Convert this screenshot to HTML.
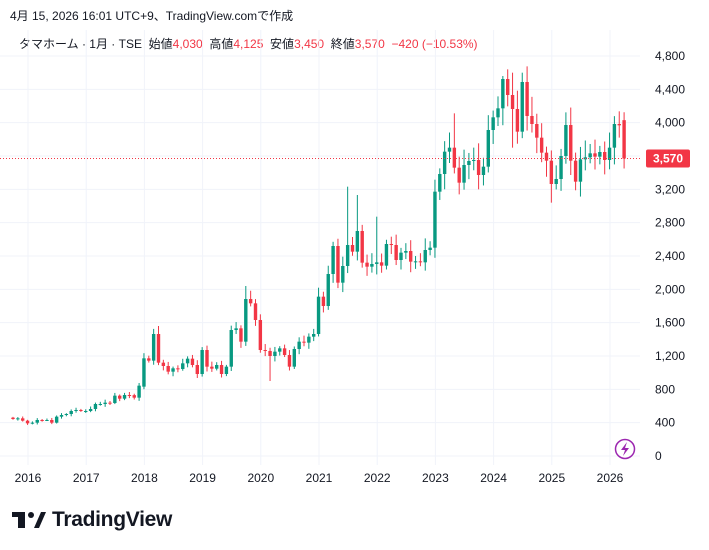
<!DOCTYPE html>
<html><head><meta charset="utf-8">
<style>
html,body{margin:0;padding:0;background:#fff;width:709px;height:550px;overflow:hidden}
body{font-family:"Liberation Sans","Noto Sans CJK JP",sans-serif;color:#131722;position:relative}
.t{position:absolute;white-space:nowrap}
</style></head><body>
<div class="t" style="left:10px;top:7px;font-size:12px">4月 15, 2026 16:01 UTC+9、TradingView.comで作成</div>
<div class="t" style="left:19px;top:35px;font-size:12px">タマホーム · 1月 · TSE&nbsp; 始値<span style="color:#f23645">4,030</span>&nbsp; 高値<span style="color:#f23645">4,125</span>&nbsp; 安値<span style="color:#f23645">3,450</span>&nbsp; 終値<span style="color:#f23645">3,570</span>&nbsp; <span style="color:#f23645">−420 (−10.53%)</span></div>
<svg id="c" width="709" height="550" style="position:absolute;left:0;top:0" xmlns="http://www.w3.org/2000/svg"></svg>
<div class="t" style="left:12px;top:508px;font-size:21px;font-weight:bold;letter-spacing:-0.3px"><span style="display:inline-block;vertical-align:-2px;margin-right:6px"><svg width="34" height="16"><rect x="0" y="0" width="13" height="5" fill="#131722"/><rect x="6" y="0" width="7" height="16" fill="#131722"/><circle cx="19" cy="3" r="3" fill="#131722"/><polygon points="22,16 29,0 34,0 27,16" fill="#131722"/></svg></span>TradingView</div>
<script>
var svg=document.getElementById('c'),h='';
function Y(p){return 456-p/12;}
// grid
for(var p=0;p<=4800;p+=400){var y=Y(p);h+='<line x1="0" x2="640" y1="'+y+'" y2="'+y+'" stroke="#f0f3fa" stroke-width="1"/>';
 h+='<text x="655" y="'+(y+4)+'" font-size="12" fill="#131722" font-family="Liberation Sans">'+(p>=1000?Math.floor(p/1000)+','+String(p%1000).padStart(3,'0'):p)+'</text>';}
var yrs=[2016,2017,2018,2019,2020,2021,2022,2023,2024,2025,2026];
for(var i=0;i<yrs.length;i++){var x=28+(yrs[i]-2016)*58.2;h+='<line x1="'+x+'" x2="'+x+'" y1="30" y2="465" stroke="#f0f3fa"/>';
 h+='<text x="'+x+'" y="482" font-size="12" text-anchor="middle" fill="#131722" font-family="Liberation Sans">'+yrs[i]+'</text>';}
var C=[444,452,424, 392,400,432,428,432,400,472,492,504,540,552,540,
540,564,624,624,640,636,724,688,732,730,700,844,
1172,1144,1464,1120,1080,1012,1052,1044,1112,1168,1092,984,
1272,1072,1048,1092,984,1072,1512,1532,1372,1884,1832,1632,
1272,1260,1200,1252,1292,1212,1072,1284,1372,1360,1432,1464,
1912,1800,2184,2520,2080,2280,2532,2452,2700,2320,2272,2304,
2324,2284,2544,2532,2352,2440,2460,2332,2336,2324,2472,2500,
3172,3384,3652,3700,3460,3280,3492,3540,3552,3372,3472,3912,
4064,4172,4524,4332,4164,3892,4488,4080,3984,3820,3640,3544,
3264,3324,3600,3972,3544,3292,3560,3584,3632,3592,3648,3552,
3700,3984,3968,3570];
var O=[];O[0]=460;for(var i=1;i<C.length;i++)O[i]=C[i-1];
O[27]=832;O[C.length-1]=4030;
var hiO={},loO={};
// overrides index: 2021Jan = 63
function idx(y,m){return 3+(y-2016)*12+(m-1);}
hiO[idx(2021,7)]=3232;hiO[idx(2021,9)]=3132;hiO[idx(2022,1)]=2872;hiO[idx(2023,5)]=4112;
hiO[idx(2024,4)]=4640;hiO[idx(2024,7)]=4600;hiO[idx(2024,5)]=4600;loO[idx(2025,1)]=3040;
hiO[idx(2026,4)]=4125;loO[idx(2026,4)]=3450;loO[idx(2020,3)]=900;hiO[idx(2019,10)]=2040;
hiO[idx(2018,4)]=1560;loO[idx(2023,10)]=3200;hiO[idx(2024,3)]=4560;loO[idx(2024,5)]=3700;
for(var i=0;i<C.length;i++){
 var o=O[i],c=C[i],x=13+4.85*i,up=c>=o,col=up?'#089981':'#f23645';
 var r=(i*37%11)/11;
 var hi=hiO[i]||Math.max(o,c)*(1+0.02+0.04*r),lo=loO[i]||Math.min(o,c)*(1-0.02-0.04*((i*53%7)/7));
 var y1=Y(Math.max(o,c)),y2=Y(Math.min(o,c));if(y2-y1<1)y2=y1+1;
 h+='<line x1="'+x+'" x2="'+x+'" y1="'+Y(hi)+'" y2="'+Y(lo)+'" stroke="'+col+'" stroke-width="1"/>';
 h+='<rect x="'+(x-1.7)+'" y="'+y1+'" width="3.4" height="'+(y2-y1)+'" fill="'+col+'"/>';
}
var ly=Y(3570);
h+='<line x1="0" x2="640" y1="'+ly+'" y2="'+ly+'" stroke="#f23645" stroke-dasharray="1,2"/>';
h+='<rect x="646" y="'+(ly-9)+'" width="44" height="18" rx="2" fill="#f23645"/><text x="668" y="'+(ly+4)+'" font-size="12" font-weight="bold" text-anchor="middle" fill="#fff" font-family="Liberation Sans">3,570</text>';
h+='<circle cx="625" cy="449" r="9.5" fill="#fff" stroke="#9c27b0" stroke-width="1.5"/><polygon points="627,442 621,450 625,450 623,456 629,448 625,448" fill="#9c27b0"/>';
svg.innerHTML=h;
</script>
</body></html>
